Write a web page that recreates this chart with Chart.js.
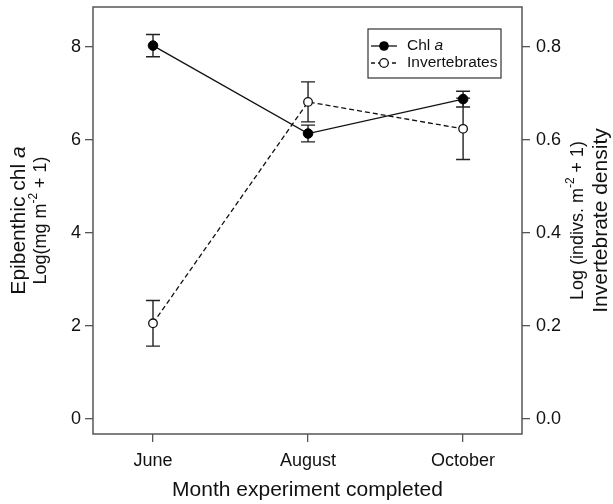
<!DOCTYPE html>
<html>
<head>
<meta charset="utf-8">
<script src="https://cdn.jsdelivr.net/npm/chart.js@4"></script>
<style>
	html, body { margin: 0; padding: 0; background: #fff; }
	#wrap { width: 613px; height: 504px; }
</style>
</head>
<body>
<div id="wrap"><canvas id="myChart" width="613" height="504"></canvas></div>
<script>
'use strict';

const months = ['June', 'August', 'October'];
const monthPos = [0, 1, 2];
const chlMean = [8.03, 6.14, 6.88];
const chlErr = [0.24, 0.18, 0.17];
const invMean = [0.206, 0.682, 0.624];
const invErr = [0.049, 0.043, 0.066];
const leftTicks = [0, 2, 4, 6, 8];
const rightTicks = [0, 0.2, 0.4, 0.6, 0.8];
const rightTickLabels = ['0.0', '0.2', '0.4', '0.6', '0.8'];

const FONT = '"Liberation Sans", Arial, sans-serif';
const INK = '#111';
const AXIS = '#555';

function generateGraph() {
	const chlPoints = monthPos.map((x, i) => ({ x, y: chlMean[i] }));
	const invPoints = monthPos.map((x, i) => ({ x, y: invMean[i] }));
	displayGraph({ chlPoints, invPoints });
}

// draws rotated text made of several pieces (italic, superscript)
function drawRich(ctx, parts, cx, cy, size) {
	ctx.save();
	ctx.translate(cx, cy);
	ctx.rotate(-Math.PI / 2);
	ctx.textBaseline = 'middle';
	ctx.textAlign = 'left';
	ctx.fillStyle = INK;
	const fontOf = (p) => (p.italic ? 'italic ' : '') + (p.sup ? Math.round(size * 0.65) : size) + 'px ' + FONT;
	let total = 0;
	parts.forEach((p) => {
		ctx.font = fontOf(p);
		total += ctx.measureText(p.t).width;
	});
	let x = -total / 2;
	parts.forEach((p) => {
		ctx.font = fontOf(p);
		ctx.fillText(p.t, x, p.sup ? -size * 0.38 : 0);
		x += ctx.measureText(p.t).width;
	});
	ctx.restore();
}

const extrasPlugin = {
	id: 'extras',
	beforeDatasetsDraw(chart) {
		const ctx = chart.ctx;
		const xs = chart.scales.x;
		const sets = [
			{ scale: chart.scales.yLeft, mean: chlMean, err: chlErr },
			{ scale: chart.scales.yRight, mean: invMean, err: invErr },
		];
		ctx.save();
		ctx.strokeStyle = '#222';
		ctx.lineWidth = 1.4;
		sets.forEach(({ scale, mean, err }) => {
			monthPos.forEach((m, i) => {
				const px = xs.getPixelForValue(m);
				const top = scale.getPixelForValue(mean[i] + err[i]);
				const bot = scale.getPixelForValue(mean[i] - err[i]);
				ctx.beginPath();
				ctx.moveTo(px, top);
				ctx.lineTo(px, bot);
				ctx.moveTo(px - 7, top);
				ctx.lineTo(px + 7, top);
				ctx.moveTo(px - 7, bot);
				ctx.lineTo(px + 7, bot);
				ctx.stroke();
			});
		});
		ctx.restore();
	},
	afterDraw(chart) {
		const ctx = chart.ctx;
		const a = chart.chartArea;
		ctx.save();
		// plot frame
		ctx.strokeStyle = AXIS;
		ctx.lineWidth = 1.5;
		ctx.strokeRect(a.left, a.top, a.right - a.left, a.bottom - a.top);

		// legend
		ctx.fillStyle = '#fff';
		ctx.fillRect(368, 29, 133, 49);
		ctx.strokeStyle = '#333';
		ctx.lineWidth = 1.2;
		ctx.strokeRect(368, 29, 133, 49);
		ctx.strokeStyle = '#111';
		ctx.lineWidth = 1.3;
		ctx.beginPath();
		ctx.moveTo(371, 46);
		ctx.lineTo(397, 46);
		ctx.stroke();
		ctx.setLineDash([4, 3]);
		ctx.beginPath();
		ctx.moveTo(371, 63);
		ctx.lineTo(397, 63);
		ctx.stroke();
		ctx.setLineDash([]);
		ctx.fillStyle = '#000';
		ctx.beginPath();
		ctx.arc(384, 46, 4.8, 0, Math.PI * 2);
		ctx.fill();
		ctx.fillStyle = '#fff';
		ctx.beginPath();
		ctx.arc(384, 63, 4.3, 0, Math.PI * 2);
		ctx.fill();
		ctx.stroke();
		ctx.fillStyle = INK;
		ctx.textBaseline = 'middle';
		ctx.font = '15.5px ' + FONT;
		ctx.fillText('Chl ', 407, 46);
		const w = ctx.measureText('Chl ').width;
		ctx.font = 'italic 15.5px ' + FONT;
		ctx.fillText('a', 407 + w, 46);
		ctx.font = '15.5px ' + FONT;
		ctx.fillText('Invertebrates', 407, 63);

		// x title
		ctx.textAlign = 'center';
		ctx.font = '21px ' + FONT;
		ctx.fillText('Month experiment completed', (a.left + a.right) / 2, 490);
		ctx.restore();

		// y titles
		const cy = (a.top + a.bottom) / 2;
		drawRich(ctx, [{ t: 'Epibenthic chl ' }, { t: 'a', italic: true }], 19, cy, 21);
		drawRich(ctx, [{ t: 'Log(mg m' }, { t: '-2', sup: true }, { t: ' + 1)' }], 41, cy, 18);
		drawRich(ctx, [{ t: 'Log (indivs. m' }, { t: '-2', sup: true }, { t: ' + 1)' }], 578, cy, 18);
		drawRich(ctx, [{ t: 'Invertebrate density' }], 601, cy, 21);
	},
};

function displayGraph({ chlPoints, invPoints }) {
	const ctx = document.getElementById('myChart').getContext('2d');
	const tickGrid = { drawOnChartArea: false, drawTicks: true, tickLength: 8, color: AXIS, lineWidth: 1.3 };
	const tickFont = { family: FONT, size: 18 };
	const fitY = (width) => (s) => {
		s.width = width;
		s.paddingTop = 0;
		s.paddingBottom = 0;
	};
	const fitX = (s) => {
		s.height = 70;
		s.paddingLeft = 0;
		s.paddingRight = 0;
	};
	const myChart = new Chart(ctx, {
		type: 'line',
		data: {
			datasets: [
				{
					label: 'Chl a',
					data: chlPoints,
					yAxisID: 'yLeft',
					borderColor: '#111',
					borderWidth: 1.3,
					pointRadius: 4.8,
					pointBackgroundColor: '#000',
					pointBorderColor: '#000',
					pointBorderWidth: 1,
					tension: 0,
				},
				{
					label: 'Invertebrates',
					data: invPoints,
					yAxisID: 'yRight',
					borderColor: '#111',
					borderWidth: 1.3,
					borderDash: [5, 3],
					pointRadius: 4.3,
					pointBackgroundColor: '#fff',
					pointBorderColor: '#111',
					pointBorderWidth: 1.3,
					tension: 0,
				},
			],
		},
		options: {
			responsive: false,
			animation: false,
			devicePixelRatio: 1,
			layout: { padding: { top: 7, left: 0, right: 0, bottom: 0 } },
			plugins: { legend: { display: false }, tooltip: { enabled: false } },
			scales: {
				x: {
					type: 'linear',
					min: -0.387,
					max: 2.38,
					border: { display: false },
					grid: tickGrid,
					afterBuildTicks: (s) => { s.ticks = monthPos.map((v) => ({ value: v })); },
					afterFit: fitX,
					ticks: {
						color: INK,
						font: tickFont,
						padding: 8,
						maxRotation: 0,
						callback: (v) => months[monthPos.indexOf(v)],
					},
				},
				yLeft: {
					type: 'linear',
					position: 'left',
					min: -0.32,
					max: 8.86,
					border: { display: false },
					grid: tickGrid,
					afterBuildTicks: (s) => { s.ticks = leftTicks.map((v) => ({ value: v })); },
					afterFit: fitY(93),
					ticks: { color: INK, font: tickFont, padding: 4, callback: (v) => String(v) },
				},
				yRight: {
					type: 'linear',
					position: 'right',
					min: -0.032,
					max: 0.886,
					border: { display: false },
					grid: tickGrid,
					afterBuildTicks: (s) => { s.ticks = rightTicks.map((v) => ({ value: v })); },
					afterFit: fitY(91),
					ticks: {
						color: INK,
						font: tickFont,
						padding: 6,
						callback: (v) => rightTickLabels[rightTicks.findIndex((t) => Math.abs(t - v) < 1e-9)],
					},
				},
			},
		},
		plugins: [extrasPlugin],
	});
}

generateGraph();
</script>
</body>
</html>
